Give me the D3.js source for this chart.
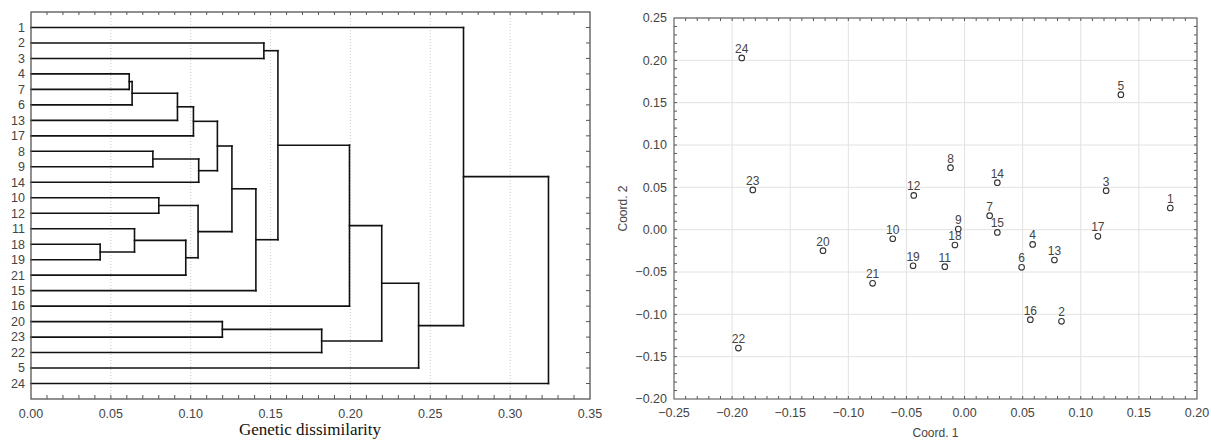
<!DOCTYPE html>
<html>
<head>
<meta charset="utf-8">
<script src="https://cdn.jsdelivr.net/npm/d3@7"></script>
<style>
  body { margin: 0; background: #fff; }
  svg { display: block; }
  text { font-family: "Liberation Sans", Arial, sans-serif; fill: #444; }
</style>
</head>
<body>
<svg id="chart" width="1211" height="440"></svg>
<script>
// leaf order of the dendrogram, top to bottom
const leafOrder = ["1","2","3","4","7","6","13","17","8","9","14","10","12","11","18","19","21","15","16","20","23","22","5","24"];

// merges: [node id, child a, child b, height]
const merges = [
  ["n1", "4", "7", 0.0615],
  ["n2", "n1", "6", 0.0633],
  ["n3", "n2", "13", 0.0917],
  ["n4", "n3", "17", 0.1017],
  ["n5", "8", "9", 0.0763],
  ["n6", "n5", "14", 0.1050],
  ["n7", "n4", "n6", 0.1167],
  ["n8", "10", "12", 0.0800],
  ["n9", "18", "19", 0.0433],
  ["n10", "11", "n9", 0.0648],
  ["n11", "n10", "21", 0.0969],
  ["n12", "n8", "n11", 0.1046],
  ["n13", "n7", "n12", 0.1258],
  ["n14", "n13", "15", 0.1408],
  ["n15", "2", "3", 0.1458],
  ["n16", "n15", "n14", 0.1546],
  ["n17", "n16", "16", 0.1994],
  ["n18", "20", "23", 0.1198],
  ["n19", "n18", "22", 0.1820],
  ["n20", "n17", "n19", 0.2196],
  ["n21", "n20", "5", 0.2427],
  ["n22", "1", "n21", 0.2708],
  ["n23", "n22", "24", 0.3240]
];

const dissimTicks = [0, 0.05, 0.10, 0.15, 0.20, 0.25, 0.30, 0.35];

// PCoA scatter
const pointLabels = ["1","2","3","4","5","6","7","8","9","10","11","12","13","14","15","16","17","18","19","20","21","22","23","24"];
const coord1 = [0.177, 0.0834, 0.1218, 0.0586, 0.1345, 0.0491, 0.0216, -0.0121, -0.0054, -0.0618, -0.017, -0.0437, 0.0773, 0.0282, 0.0282, 0.0566, 0.1147, -0.0083, -0.0443, -0.1218, -0.0791, -0.1946, -0.1822, -0.1917];
const coord2 = [0.0256, -0.1083, 0.0460, -0.0174, 0.1594, -0.0445, 0.0165, 0.0732, 0.0008, -0.0107, -0.0437, 0.0405, -0.0358, 0.0555, -0.0032, -0.1063, -0.0079, -0.0181, -0.0426, -0.0248, -0.0634, -0.1398, 0.0469, 0.2028];
const coordTicks = [-0.25, -0.20, -0.15, -0.10, -0.05, 0, 0.05, 0.10, 0.15, 0.20];
const coord2Ticks = [-0.20, -0.15, -0.10, -0.05, 0, 0.05, 0.10, 0.15, 0.20, 0.25];

const svg = d3.select("#chart");
const fmt = d3.format(".2f");

// ---------- dendrogram ----------
const L = { left: 31, right: 590, top: 12, bottom: 399 };
const xD = d3.scaleLinear().domain([0, 0.35]).range([L.left, L.right]);
const yD = d3.scaleLinear().domain([0, 25]).range([L.top, L.bottom]);

let pos = {};
leafOrder.forEach((k, i) => { pos[k] = { y: yD(i + 1), h: 0 }; });
merges.forEach(m => {
  pos[m[0]] = { y: (pos[m[1]].y + pos[m[2]].y) / 2, h: m[3] };
});

let left = svg.append("g");

// dotted grid
left.selectAll("line.grid")
  .data(dissimTicks.slice(1, -1))
  .enter().append("line")
  .attr("x1", d => xD(d)).attr("x2", d => xD(d))
  .attr("y1", L.top).attr("y2", L.bottom)
  .style("stroke", "#ccc").style("stroke-dasharray", "1,2");

// minor ticks top & bottom
let minor = d3.range(1, 35).map(i => i / 100);
left.selectAll("line.mt")
  .data(minor).enter().append("line")
  .attr("x1", d => xD(d)).attr("x2", d => xD(d))
  .attr("y1", L.top).attr("y2", L.top + 3)
  .style("stroke", "#555");
left.selectAll("line.mb")
  .data(minor).enter().append("line")
  .attr("x1", d => xD(d)).attr("x2", d => xD(d))
  .attr("y1", L.bottom).attr("y2", L.bottom - 4)
  .style("stroke", "#555");
// right ticks at rows
left.selectAll("line.mr")
  .data(leafOrder).enter().append("line")
  .attr("x1", L.right).attr("x2", L.right - 4)
  .attr("y1", d => pos[d].y).attr("y2", d => pos[d].y)
  .style("stroke", "#555");

// branches
let segs = [];
merges.forEach(m => {
  let h = m[3];
  segs.push([pos[m[1]].h, pos[m[1]].y, h, pos[m[1]].y]);
  segs.push([pos[m[2]].h, pos[m[2]].y, h, pos[m[2]].y]);
  segs.push([h, pos[m[1]].y, h, pos[m[2]].y]);
});
left.selectAll("line.branch")
  .data(segs).enter().append("line")
  .attr("x1", d => xD(d[0])).attr("y1", d => d[1])
  .attr("x2", d => xD(d[2])).attr("y2", d => d[3])
  .style("stroke", "#111").style("stroke-width", 1.6)
  .style("stroke-linecap", "square");

// frame
left.append("rect")
  .attr("x", L.left).attr("y", L.top)
  .attr("width", L.right - L.left).attr("height", L.bottom - L.top)
  .style("fill", "none").style("stroke", "#555").style("stroke-width", 1.3);

// row labels
left.selectAll("text.row")
  .data(leafOrder).enter().append("text")
  .attr("x", 25).attr("y", d => pos[d].y)
  .attr("dy", "0.35em")
  .attr("text-anchor", "end")
  .style("font-size", "12.5px")
  .text(d => d);

left.selectAll("text.xt")
  .data(dissimTicks).enter().append("text")
  .attr("x", d => xD(d)).attr("y", 418)
  .attr("text-anchor", "middle")
  .style("font-size", "12.5px")
  .text(d => fmt(d));

left.append("text")
  .attr("x", 310).attr("y", 435)
  .attr("text-anchor", "middle")
  .style("font-family", "'Liberation Serif', 'Times New Roman', serif")
  .style("font-size", "17px")
  .style("fill", "#111")
  .text("Genetic dissimilarity");

// ---------- scatter ----------
const R = { left: 674, right: 1197, top: 18, bottom: 399 };
const xS = d3.scaleLinear().domain([-0.25, 0.20]).range([R.left, R.right]);
const yS = d3.scaleLinear().domain([-0.20, 0.25]).range([R.bottom, R.top]);

let right = svg.append("g");

right.selectAll("line.gx")
  .data(coordTicks.slice(1)).enter().append("line")
  .attr("x1", d => xS(d)).attr("x2", d => xS(d))
  .attr("y1", R.top).attr("y2", R.bottom)
  .style("stroke", "#e2e2e2");
right.selectAll("line.gy")
  .data(coord2Ticks.slice(1)).enter().append("line")
  .attr("x1", R.left).attr("x2", R.right)
  .attr("y1", d => yS(d)).attr("y2", d => yS(d))
  .style("stroke", "#e2e2e2");

let mx = d3.range(-24, 20).map(i => i / 100);
let my = d3.range(-19, 25).map(i => i / 100);
[[R.top, 3], [R.bottom, -3]].forEach(([y0, len]) => {
  right.selectAll(null)
    .data(mx).enter().append("line")
    .attr("x1", d => xS(d)).attr("x2", d => xS(d))
    .attr("y1", y0).attr("y2", y0 + len)
    .style("stroke", "#555");
});
[[R.left, 3], [R.right, -3]].forEach(([x0, len]) => {
  right.selectAll(null)
    .data(my).enter().append("line")
    .attr("y1", d => yS(d)).attr("y2", d => yS(d))
    .attr("x1", x0).attr("x2", x0 + len)
    .style("stroke", "#555");
});

right.append("rect")
  .attr("x", R.left).attr("y", R.top)
  .attr("width", R.right - R.left).attr("height", R.bottom - R.top)
  .style("fill", "none").style("stroke", "#666").style("stroke-width", 1.2);

right.selectAll("text.xt")
  .data(coordTicks).enter().append("text")
  .attr("x", d => xS(d)).attr("y", 417)
  .attr("text-anchor", "middle")
  .style("font-size", "12.5px")
  .text(d => fmt(d));
right.selectAll("text.yt")
  .data(coord2Ticks).enter().append("text")
  .attr("x", 667).attr("y", d => yS(d))
  .attr("dy", "0.35em")
  .attr("text-anchor", "end")
  .style("font-size", "12.5px")
  .text(d => fmt(d));

right.append("text")
  .attr("x", (R.left + R.right) / 2).attr("y", 437)
  .attr("text-anchor", "middle")
  .style("font-size", "12px")
  .text("Coord. 1");
right.append("text")
  .attr("transform", "translate(627," + ((R.top + R.bottom) / 2) + ") rotate(-90)")
  .attr("text-anchor", "middle")
  .style("font-size", "12px")
  .text("Coord. 2");

let pts = pointLabels.map((l, i) => ({ label: l, x: coord1[i], y: coord2[i] }));
right.selectAll("circle.pt")
  .data(pts).enter().append("circle")
  .attr("cx", d => xS(d.x)).attr("cy", d => yS(d.y))
  .attr("r", 2.8)
  .style("fill", "#fff").style("stroke", "#333").style("stroke-width", 1.1);
right.selectAll("text.pl")
  .data(pts).enter().append("text")
  .attr("x", d => xS(d.x)).attr("y", d => yS(d.y) - 5)
  .attr("text-anchor", "middle")
  .style("font-size", "12px")
  .text(d => d.label);
</script>
</body>
</html>
